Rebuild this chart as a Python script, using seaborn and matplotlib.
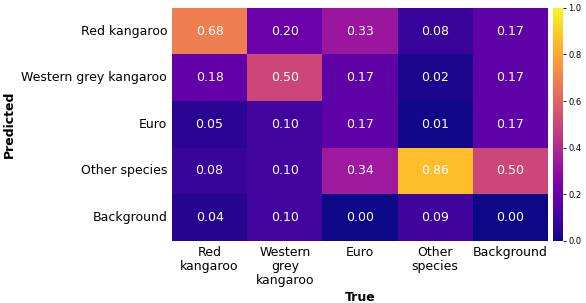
import numpy as np
import pandas as pd
import matplotlib
matplotlib.use("Agg")
import matplotlib.pyplot as plt
import seaborn as sns

# --- Data ---
predicted_labels = ["Red kangaroo", "Western grey kangaroo", "Euro", "Other species", "Background"]
true_labels = ["Red\nkangaroo", "Western\ngrey\nkangaroo", "Euro", "Other\nspecies", "Background"]

row_red = [0.68, 0.20, 0.33, 0.08, 0.17]
row_western = [0.18, 0.50, 0.17, 0.02, 0.17]
row_euro = [0.05, 0.10, 0.17, 0.01, 0.17]
row_other = [0.08, 0.10, 0.34, 0.86, 0.50]
row_background = [0.04, 0.10, 0.00, 0.09, 0.00]

cm = pd.DataFrame(
    [row_red, row_western, row_euro, row_other, row_background],
    index=predicted_labels,
    columns=true_labels,
)

# --- Plot ---
fig = plt.figure(figsize=(5.86, 3.03), dpi=100)
ax = fig.add_axes([0.2935, 0.205, 0.6415, 0.769])
cax = fig.add_axes([0.944, 0.205, 0.017, 0.769])

sns.heatmap(
    cm,
    ax=ax,
    cbar_ax=cax,
    cmap="plasma",
    vmin=0.0,
    vmax=1.0,
    annot=True,
    fmt=".2f",
    annot_kws={"color": "white", "fontsize": 9},
)

ax.set_xlabel("True", fontsize=9, fontweight="bold", labelpad=3)
ax.set_ylabel("Predicted", fontsize=9, fontweight="bold")
ax.tick_params(axis="both", length=0, labelsize=9)
plt.setp(ax.get_xticklabels(), rotation=0, ha="center", linespacing=1.1)
plt.setp(ax.get_yticklabels(), rotation=0)

cax.tick_params(labelsize=6, length=2, width=0.6, pad=1.5)
cax.set_yticks([0.0, 0.2, 0.4, 0.6, 0.8, 1.0])
for s in cax.spines.values():
    s.set_visible(False)

fig.savefig("out.png", dpi=100)
plt.close(fig)
